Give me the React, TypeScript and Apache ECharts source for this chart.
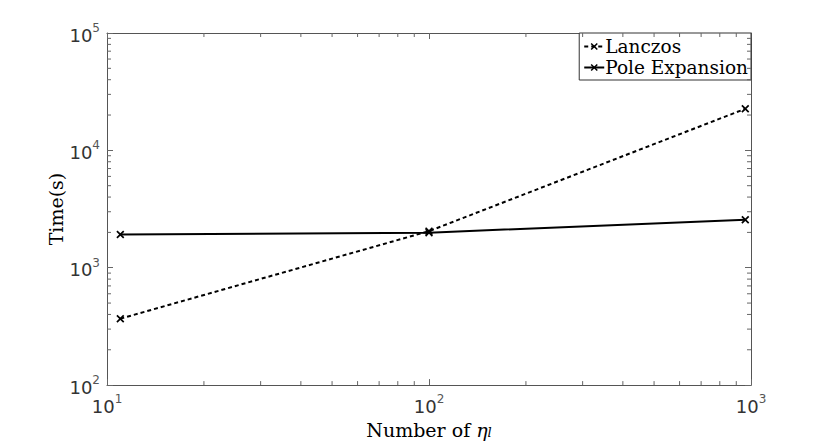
import React, { useEffect, useRef } from "react";
import * as echarts from "echarts";

const xValues = [11, 100, 960];
const lanczos = [368, 2050, 22600];
const poleExpansion = [1920, 1990, 2560];
const seriesNames = ["Lanczos", "Pole Expansion"];
const xMin = 10, xMax = 1000, yMin = 100, yMax = 100000;

const AXIS_COLOR = "#555";
const TICK_COLOR = "#666";

const supFmt = (v: number) => `{b|10}{s|${Math.round(Math.log10(v))}}`;
const richLabel = {
  b: { fontSize: 18, lineHeight: 22, fontFamily: "DejaVu Sans", color: "#333", verticalAlign: "bottom" },
  s: { fontSize: 12, lineHeight: 12, fontFamily: "DejaVu Sans", color: "#555", verticalAlign: "top" },
};

const xMarker = "path://M0,1.5L1.5,0L5,3.5L8.5,0L10,1.5L6.5,5L10,8.5L8.5,10L5,6.5L1.5,10L0,8.5L3.5,5Z";

function minorValues(min: number, max: number) {
  const out: number[] = [];
  for (let d = min; d < max; d *= 10) {
    for (let k = 2; k <= 9; k++) out.push(d * k);
  }
  return out;
}

export default function App() {
  const ref = useRef<HTMLDivElement>(null);
  useEffect(() => {
    if (!ref.current) return;
    const chart = echarts.init(ref.current, null, { renderer: "svg" });
    const baseAxis = {
      type: "log" as const,
      logBase: 10,
      axisLine: { show: true, lineStyle: { color: AXIS_COLOR, width: 1 } },
      axisTick: { show: true, inside: true, length: 6, lineStyle: { color: TICK_COLOR } },
      splitLine: { show: false },
    };
    chart.setOption({
      animation: false,
      backgroundColor: "#fff",
      grid: { left: 107, right: 79, top: 33, bottom: 49, show: false },
      legend: {
        orient: "vertical",
        right: 79,
        top: 33,
        padding: [3, 3, 2, 4],
        itemGap: 0,
        itemWidth: 20,
        itemHeight: 9,
        borderColor: "#333",
        borderWidth: 1,
        borderRadius: 0,
        backgroundColor: "#fff",
        textStyle: { fontFamily: "DejaVu Serif", fontSize: 18.5, lineHeight: 21, color: "#000", padding: [0, 0, 0, -4] },
        data: seriesNames,
      },
      xAxis: [
        {
          ...baseAxis,
          min: xMin,
          max: xMax,
          position: "bottom",
          axisLabel: { formatter: supFmt, rich: richLabel, margin: 8 },
          name: "{n|Number of }{i|η}{l|l}",
          nameLocation: "middle",
          nameGap: 26,
          nameTextStyle: {
            rich: {
              n: { fontFamily: "DejaVu Serif", fontSize: 19, lineHeight: 22, color: "#000", verticalAlign: "bottom" },
              i: { fontFamily: "DejaVu Serif", fontStyle: "italic", fontSize: 19, lineHeight: 22, color: "#000", verticalAlign: "bottom" },
              l: { fontFamily: "DejaVu Serif", fontStyle: "italic", fontSize: 13, lineHeight: 14, color: "#000", verticalAlign: "bottom" },
            },
          },
        },
        {
          ...baseAxis,
          min: xMin,
          max: xMax,
          position: "top",
          axisLabel: { show: false },
        },
      ],
      yAxis: [
        {
          ...baseAxis,
          min: yMin,
          max: yMax,
          position: "left",
          axisLabel: { formatter: supFmt, rich: richLabel, margin: 7 },
          name: "Time(s)",
          nameLocation: "middle",
          nameGap: 42,
          nameMoveOverlap: false,
          nameTextStyle: { fontFamily: "DejaVu Serif", fontSize: 19, color: "#000" },
        },
        {
          ...baseAxis,
          min: yMin,
          max: yMax,
          position: "right",
          axisLabel: { show: false },
        },
      ],
      series: [
        {
          name: seriesNames[0],
          type: "line",
          data: xValues.map((x, i) => [x, lanczos[i]]),
          symbol: xMarker,
          symbolSize: 8,
          itemStyle: { color: "#000" },
          lineStyle: { color: "#000", width: 2, type: [4, 3] },
        },
        {
          name: seriesNames[1],
          type: "line",
          data: xValues.map((x, i) => [x, poleExpansion[i]]),
          symbol: xMarker,
          symbolSize: 8,
          itemStyle: { color: "#000" },
          lineStyle: { color: "#000", width: 2, type: "solid" },
        },
      ],
    });

    // minor ticks placed through the library's own scales
    const x0 = chart.convertToPixel({ xAxisIndex: 0 }, xMin) as number;
    const x1 = chart.convertToPixel({ xAxisIndex: 0 }, xMax) as number;
    const yb = chart.convertToPixel({ yAxisIndex: 0 }, yMin) as number;
    const yt = chart.convertToPixel({ yAxisIndex: 0 }, yMax) as number;
    const len = 4;
    const ls = { stroke: TICK_COLOR, lineWidth: 1 };
    const els: any[] = [];
    minorValues(xMin, xMax).forEach((v) => {
      const px = chart.convertToPixel({ xAxisIndex: 0 }, v) as number;
      els.push({ type: "line", shape: { x1: px, y1: yb, x2: px, y2: yb - len }, style: ls, silent: true, z: 10 });
      els.push({ type: "line", shape: { x1: px, y1: yt, x2: px, y2: yt + len }, style: ls, silent: true, z: 10 });
    });
    minorValues(yMin, yMax).forEach((v) => {
      const py = chart.convertToPixel({ yAxisIndex: 0 }, v) as number;
      els.push({ type: "line", shape: { x1: x0, y1: py, x2: x0 + len, y2: py }, style: ls, silent: true, z: 10 });
      els.push({ type: "line", shape: { x1: x1, y1: py, x2: x1 - len, y2: py }, style: ls, silent: true, z: 10 });
    });
    chart.setOption({ graphic: { elements: els } });

    return () => chart.dispose();
  }, []);
  return <div ref={ref} style={{ width: 830, height: 444, position: "absolute", left: 0, top: 0 }} />;
}
